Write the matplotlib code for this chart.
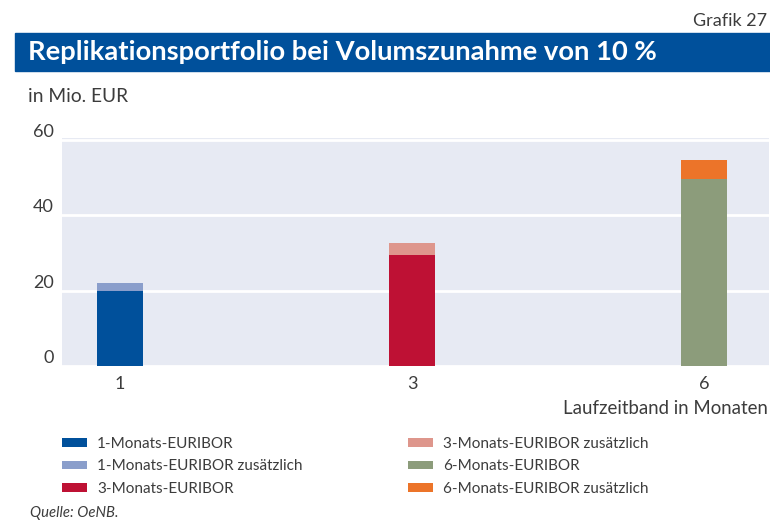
import matplotlib.pyplot as plt
from matplotlib.patches import Rectangle

# data
categories = ["1", "3", "6"]
base_values = [20.0, 29.6, 49.8]
extra_values = [2.1, 3.2, 5.0]
base_labels = ["1-Monats-EURIBOR", "3-Monats-EURIBOR", "6-Monats-EURIBOR"]
extra_labels = ["1-Monats-EURIBOR zusätzlich", "3-Monats-EURIBOR zusätzlich",
                "6-Monats-EURIBOR zusätzlich"]
base_colors = ["#00509B", "#BE1134", "#8C9C7B"]
extra_colors = ["#8A9ECB", "#DE968C", "#EC7429"]
yticks = [0, 20, 40, 60]

plt.rcParams['font.family'] = ['Lato', 'DejaVu Sans']
text_color = "#3c3c3c"

fig = plt.figure(figsize=(7.7, 5.24), dpi=100)
W, H = 770, 524

def fx(px):
    return px / W

def fy(py):
    return 1 - py / H

# title band
fig.patches.append(Rectangle((fx(15), fy(71)), fx(755), 38 / H,
                             transform=fig.transFigure, color="#00509B"))
fig.text(fx(28), fy(52), "Replikationsportfolio bei Volumszunahme von 10 %",
         color="white", fontsize=19.7, fontweight="bold", va="center")
fig.text(fx(767), fy(21), "Grafik 27", ha="right", va="center",
         fontsize=13, color=text_color)
fig.text(fx(28), fy(97), "in Mio. EUR", ha="left", va="center",
         fontsize=13.8, color=text_color)

ax = fig.add_axes([fx(62), fy(366), fx(707), (366 - 137.5) / H])
ax.set_facecolor("#E7EAF3")
x = list(range(len(categories)))
handles_base = []
handles_extra = []
for i in x:
    b = ax.bar(i, base_values[i], width=0.158, color=base_colors[i],
               label=base_labels[i], zorder=3)
    e = ax.bar(i, extra_values[i], bottom=base_values[i], width=0.158,
               color=extra_colors[i], label=extra_labels[i], zorder=3)
    handles_base.append(b)
    handles_extra.append(e)

ax.set_xlim(-0.199, 2.223)
ax.set_ylim(0, 60.7)
ax.set_yticks(yticks)
ax.set_yticklabels([str(t) for t in yticks])
ax.set_xticks(x)
ax.set_xticklabels(categories)
ax.yaxis.grid(True, color="white", linewidth=2, zorder=1)
ax.set_axisbelow(True)
for s in ax.spines.values():
    s.set_visible(False)
ax.tick_params(axis="both", length=0, labelsize=13, colors=text_color)
ax.tick_params(axis="y", pad=6)
ax.tick_params(axis="x", pad=7)
for lbl in ax.get_yticklabels():
    lbl.set_va("bottom")

fig.text(fx(768), fy(409), "Laufzeitband in Monaten", ha="right", va="center",
         fontsize=13.4, color=text_color)

# legend, column-wise order
order = [handles_base[0], handles_extra[0], handles_base[1],
         handles_extra[1], handles_base[2], handles_extra[2]]
names = [base_labels[0], extra_labels[0], base_labels[1],
         extra_labels[1], base_labels[2], extra_labels[2]]
leg = fig.legend(order, names, ncol=2, loc="upper left",
                 bbox_to_anchor=(fx(62), fy(437)), frameon=False,
                 fontsize=11, handlelength=1.64, handleheight=0.46,
                 handletextpad=0.65, columnspacing=6.9, labelspacing=0.55,
                 borderpad=0, borderaxespad=0, labelcolor=text_color)

fig.text(fx(30), fy(513), "Quelle: OeNB.", ha="left", va="center",
         fontsize=10.7, style="italic", color=text_color)

fig.savefig("out.png", dpi=100)
